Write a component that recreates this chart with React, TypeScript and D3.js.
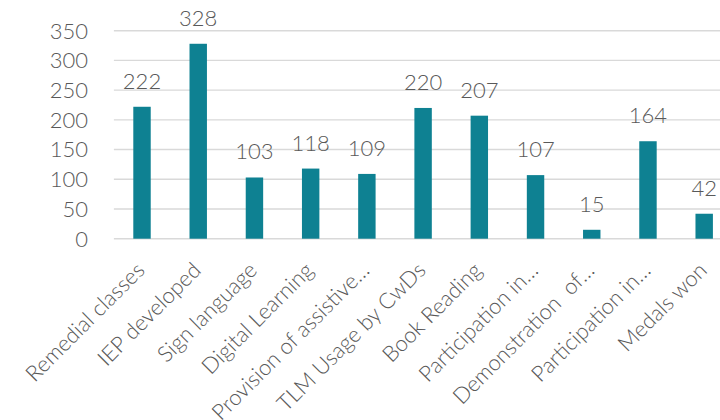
import React from "react";
import * as d3 from "d3";

const categories = [
  "Remedial classes",
  "IEP developed",
  "Sign language",
  "Digital Learning",
  "Provision of assistive…",
  "TLM Usage by CwDs",
  "Book Reading",
  "Participation in…",
  "Demonstration  of…",
  "Participation in…",
  "Medals won",
];
const values = [222, 328, 103, 118, 109, 220, 207, 107, 15, 164, 42];
const yTicks = [0, 50, 100, 150, 200, 250, 300, 350];

const W = 720;
const H = 420;
const FONT = "Lato, 'Open Sans', sans-serif";
const TEXT = "#595959";
const BAR = "#0E8192";
const GRID = "#D9D9D9";

export default function App() {
  const ids = categories.map((_, i) => String(i));
  const x = d3
    .scaleBand<string>()
    .domain(ids)
    .range([113.9, 732.3])
    .paddingInner(0.69)
    .paddingOuter(0.345);
  const y = d3.scaleLinear().domain([0, 350]).range([238.7, 30.7]);
  const bw = x.bandwidth();

  return (
    <svg
      width={W}
      height={H}
      style={{ position: "absolute", left: 0, top: 0, background: "#fff" }}
      fontFamily={FONT}
    >
      {yTicks.map((t) => (
        <g key={t}>
          <line x1={113.9} x2={W} y1={y(t)} y2={y(t)} stroke={GRID} strokeWidth={1.4} />
          <text
            x={88}
            y={y(t)}
            dy="0.36em"
            textAnchor="end"
            fontSize={22}
            fontWeight={300}
            fill={TEXT}
          >
            {t}
          </text>
        </g>
      ))}
      {values.map((v, i) => {
        const xi = x(ids[i])!;
        return (
          <g key={i}>
            <rect x={xi} y={y(v)} width={bw} height={y(0) - y(v)} fill={BAR} />
            <text
              x={xi + bw / 2}
              y={y(v) - 18}
              textAnchor="middle"
              fontSize={22}
              fontWeight={300}
              fill={TEXT}
            >
              {v}
            </text>
          </g>
        );
      })}
      {categories.map((c, i) => {
        const cx = x(ids[i])! + bw / 2 + 4;
        const cy = y(0) + 33;
        return (
          <text
            key={i}
            transform={`translate(${cx},${cy}) rotate(-45)`}
            textAnchor="end"
            fontSize={22}
            fontWeight={300}
            fill={TEXT}
            style={{ whiteSpace: "pre" }}
          >
            {c}
          </text>
        );
      })}
    </svg>
  );
}
